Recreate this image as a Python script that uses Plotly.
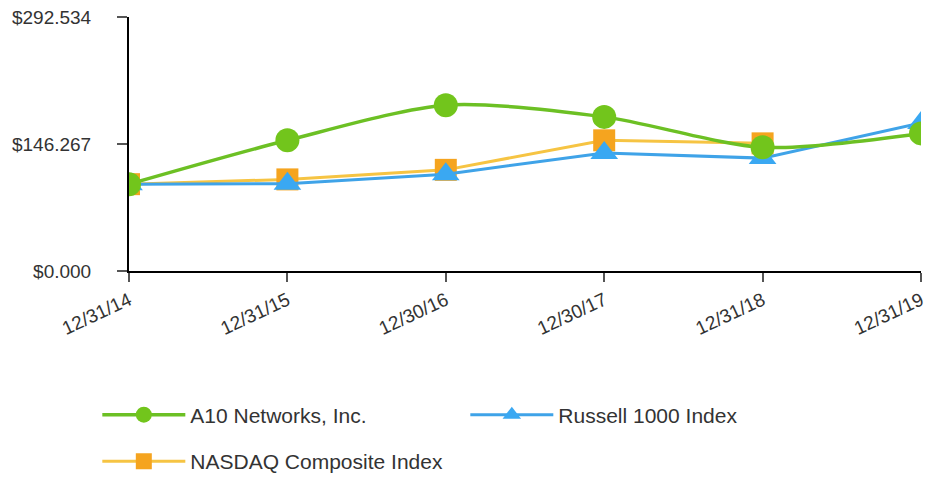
import plotly.graph_objects as go

dates = ["12/31/14", "12/31/15", "12/30/16", "12/30/17", "12/31/18", "12/31/19"]
a10 = [100.0, 150.5, 191.0, 177.5, 142.5, 158.5]
russell = [100.0, 100.5, 111.5, 136.0, 130.0, 170.5]
nasdaq = [100.0, 105.5, 116.5, 150.5, 147.0, None]
y_ticks = [0.0, 146.267, 292.534]
y_labels = ["$0.000", "$146.267", "$292.534"]

xs = list(range(len(dates)))
font = "Liberation Sans, Arial, sans-serif"

fig = go.Figure()
fig.add_trace(go.Scatter(
    x=xs, y=nasdaq, name="NASDAQ Composite Index", mode="lines+markers",
    line=dict(color="#f6c443", width=3),
    marker=dict(symbol="square", size=22, color="#f5a41f"),
    legend="legend2", legendrank=3))
fig.add_trace(go.Scatter(
    x=xs, y=russell, name="Russell 1000 Index", mode="lines+markers",
    line=dict(color="#3fa3e8", width=3),
    marker=dict(symbol="triangle-up", size=24, color="#3aa8f2"),
    legendrank=2))
fig.add_trace(go.Scatter(
    x=xs, y=a10, name="A10 Networks, Inc.", mode="lines+markers",
    line=dict(color="#6cc024", width=3.5, shape="spline", smoothing=0.8),
    marker=dict(symbol="circle", size=24, color="#72c51c"),
    legendrank=1))

fig.update_layout(
    width=931, height=492,
    margin=dict(l=129, r=10, t=17, b=221, autoexpand=False),
    paper_bgcolor="white", plot_bgcolor="white",
    font=dict(family=font, size=19, color="#333333"),
    showlegend=True,
    legend=dict(orientation="h", x=-0.04, xanchor="left", y=-0.567, yanchor="middle",
                entrywidth=270, entrywidthmode="pixels", itemwidth=83,
                font=dict(size=21, color="#333333"), bgcolor="rgba(0,0,0,0)"),
    legend2=dict(orientation="h", x=-0.04, xanchor="left", y=-0.75, yanchor="middle",
                 itemwidth=83, font=dict(size=21, color="#333333"),
                 bgcolor="rgba(0,0,0,0)"),
)
fig.update_xaxes(
    range=[0, 5], tickmode="array", tickvals=xs, ticktext=dates,
    tickangle=-25, showgrid=False, zeroline=False, automargin=False,
    showline=True, linecolor="black", linewidth=2,
    ticks="outside", ticklen=9, tickcolor="#555555", tickwidth=2,
    tickfont=dict(size=19, color="#333333"))
fig.update_yaxes(
    range=[0, 292.534], tickmode="array", tickvals=y_ticks, ticktext=y_labels,
    showgrid=False, zeroline=False, automargin=False,
    showline=True, linecolor="black", linewidth=2,
    ticks="outside", ticklen=10, tickcolor="#555555", tickwidth=2,
    ticklabelstandoff=22,
    tickfont=dict(size=19, color="#333333"))

fig.write_html("out.html", config={"displayModeBar": False},
               post_script="document.body.style.margin='0';")
